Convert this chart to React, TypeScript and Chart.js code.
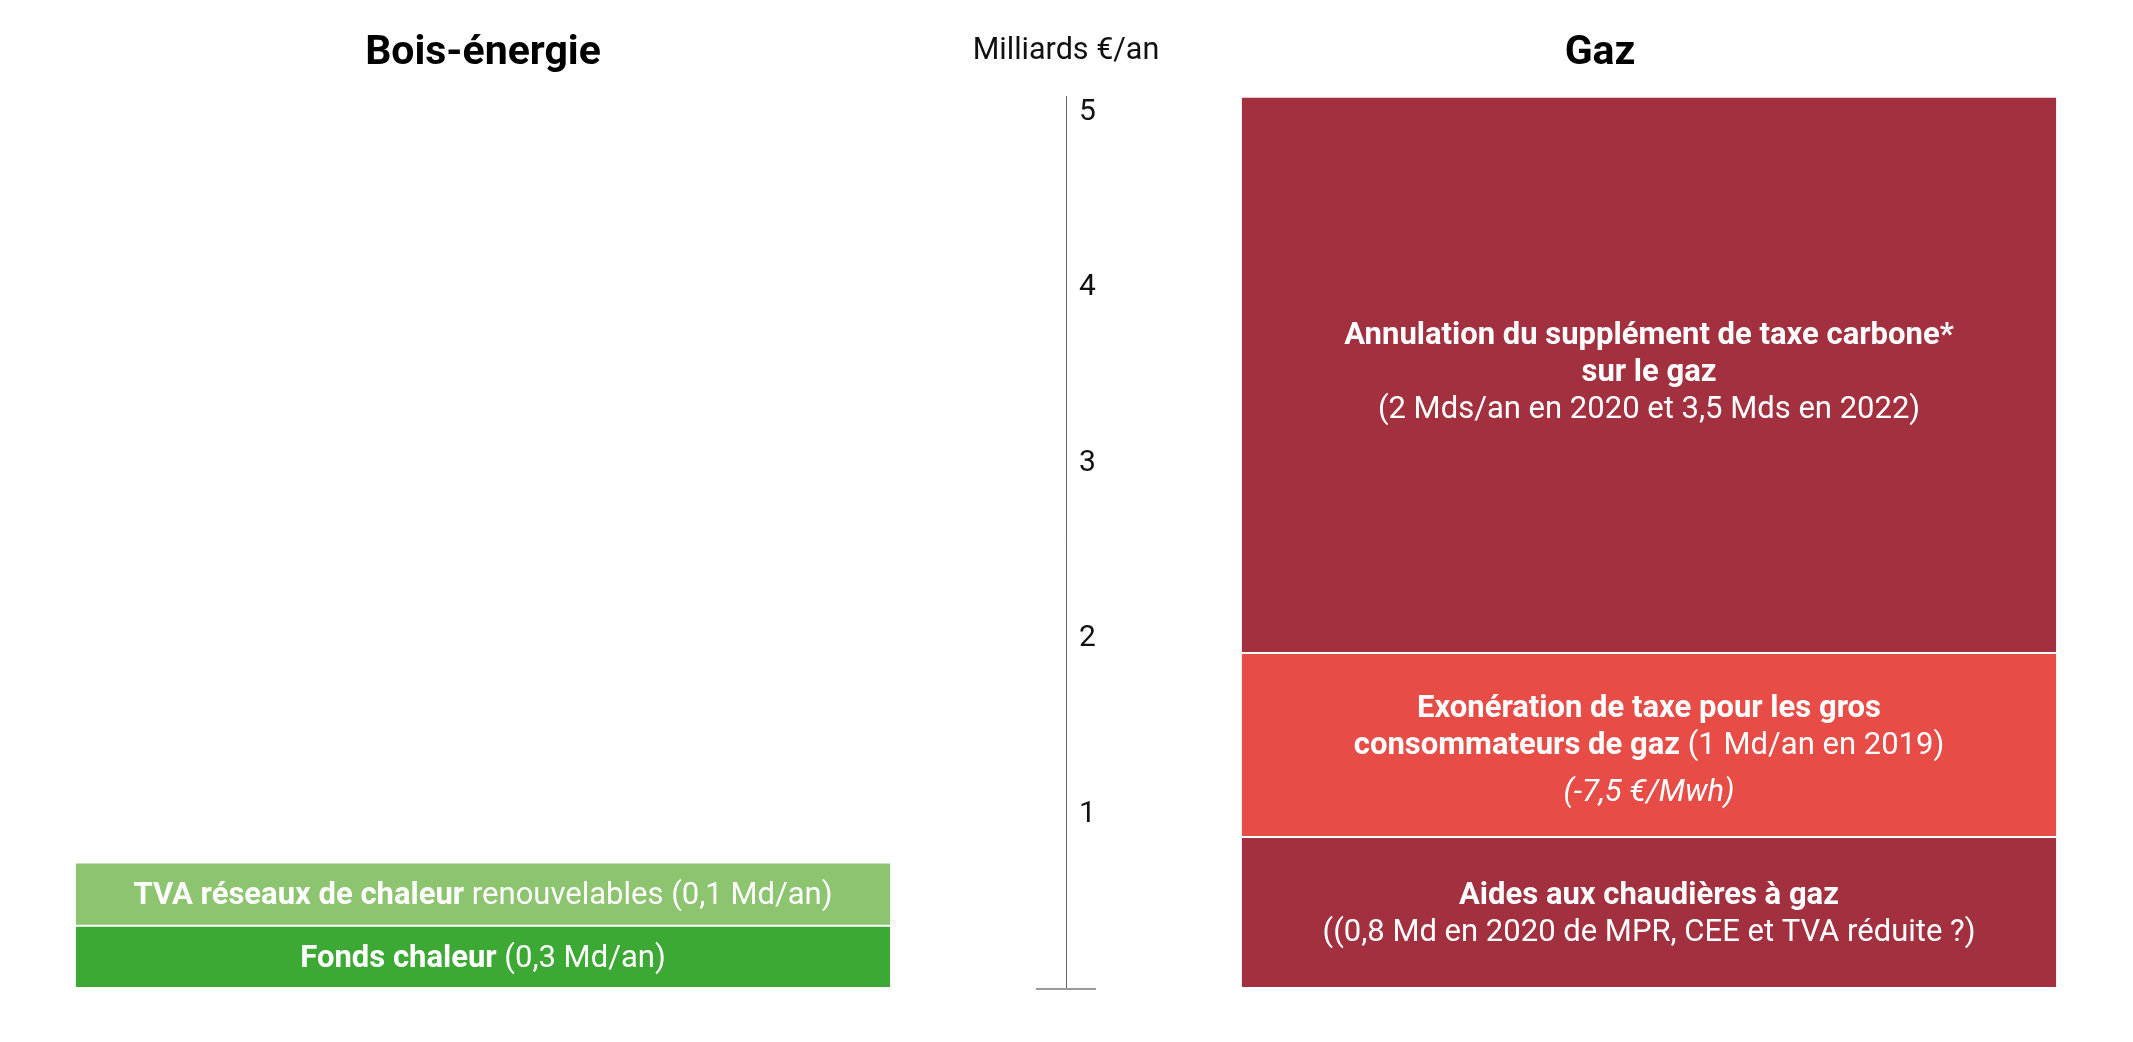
import React, { useEffect, useRef } from "react";
import { Chart, registerables } from "chart.js";

Chart.register(...registerables);

// ---------- data ----------
const categories = ["Bois-énergie", "", "Gaz"];
const panelTitles = ["Bois-énergie", "", "Gaz"];
const axisTitle = "Milliards €/an";
const yTickValues = [1, 2, 3, 4, 5];
const yMax = 5.08;

const fondsChaleur = [0.355, null, null];
const tvaReseaux = [0.36, null, null];
const aidesChaudieres = [null, null, 0.86];
const exonerationTaxe = [null, null, 1.05];
const annulationTaxeCarbone = [null, null, 3.17];

type Run = { t: string; s: "b" | "r" | "i" };

const fondsLines: Run[][] = [[{ t: "Fonds chaleur", s: "b" }, { t: " (0,3 Md/an)", s: "r" }]];
const tvaLines: Run[][] = [
  [{ t: "TVA réseaux de chaleur", s: "b" }, { t: " renouvelables (0,1 Md/an)", s: "r" }],
];
const aidesLines: Run[][] = [
  [{ t: "Aides aux chaudières à gaz", s: "b" }],
  [{ t: "((0,8 Md en 2020 de MPR, CEE et TVA réduite ?)", s: "r" }],
];
const exonerationLines: Run[][] = [
  [{ t: "Exonération de taxe pour les gros", s: "b" }],
  [{ t: "consommateurs de gaz", s: "b" }, { t: " (1 Md/an en 2019)", s: "r" }],
  [{ t: "(-7,5 €/Mwh)", s: "i" }],
];
const annulationLines: Run[][] = [
  [{ t: "Annulation du supplément de taxe carbone*", s: "b" }],
  [{ t: "sur le gaz", s: "b" }],
  [{ t: "(2 Mds/an en 2020 et 3,5 Mds en 2022)", s: "r" }],
];

// ---------- styles ----------
const FONT = "Roboto";
const DARK_RED = "rgb(163,48,63)";
const RED = "rgb(232,76,71)";
const LIGHT_GREEN = "rgb(141,196,112)";
const DARK_GREEN = "rgb(61,169,53)";
const BAR_TEXT_SIZE = 31;
const LINE_H = 37;

function fontFor(s: "b" | "r" | "i", size: number) {
  if (s === "b") return `bold ${size}px ${FONT}`;
  if (s === "i") return `italic 400 ${size}px ${FONT}`;
  return `400 ${size}px ${FONT}`;
}

function drawBlock(ctx: CanvasRenderingContext2D, lines: Run[][], cx: number, cy: number) {
  const baselines: number[] = [];
  let b = 0;
  lines.forEach((line, k) => {
    if (k > 0) b += LINE_H + (line.some((r) => r.s === "i") ? 10 : 0);
    baselines.push(b);
  });
  const mid = (baselines[0] + baselines[baselines.length - 1]) / 2;
  ctx.fillStyle = "#ffffff";
  ctx.textAlign = "left";
  ctx.textBaseline = "alphabetic";
  lines.forEach((line, k) => {
    let total = 0;
    const widths = line.map((r) => {
      ctx.font = fontFor(r.s, BAR_TEXT_SIZE);
      const w = ctx.measureText(r.t).width;
      total += w;
      return w;
    });
    let x = cx - total / 2;
    const y = cy - mid + baselines[k] + 10;
    line.forEach((r, i) => {
      ctx.font = fontFor(r.s, BAR_TEXT_SIZE);
      ctx.fillText(r.t, x, y);
      x += widths[i];
    });
  });
}

const overlayPlugin = {
  id: "overlay",
  afterDatasetsDraw(chart: any) {
    const ctx: CanvasRenderingContext2D = chart.ctx;
    ctx.save();
    chart.data.datasets.forEach((ds: any, i: number) => {
      const meta = chart.getDatasetMeta(i);
      meta.data.forEach((el: any, j: number) => {
        if (ds.data[j] == null) return;
        const p = el.getProps(["x", "y", "base"], true);
        drawBlock(ctx, ds.textLines, p.x, (p.y + p.base) / 2 + (ds.textDy || 0));
      });
    });
    ctx.restore();
  },
  afterDraw(chart: any) {
    const ctx: CanvasRenderingContext2D = chart.ctx;
    const xs = chart.scales.x;
    const ys = chart.scales.y;
    const axisX = xs.getPixelForValue(1);
    ctx.save();
    // y tick labels
    ctx.fillStyle = "#111";
    ctx.font = `400 30px ${FONT}`;
    ctx.textAlign = "left";
    ctx.textBaseline = "middle";
    ys.ticks.forEach((t: any) => {
      ctx.fillText(String(t.value), axisX + 13, ys.getPixelForValue(t.value) + 1.5);
    });
    // baseline tick
    const y0 = ys.getPixelForValue(0);
    ctx.strokeStyle = "#999";
    ctx.lineWidth = 2;
    ctx.beginPath();
    ctx.moveTo(axisX - 30, y0 + 1);
    ctx.lineTo(axisX + 30, y0 + 1);
    ctx.stroke();
    // axis title
    ctx.fillStyle = "#111";
    ctx.textAlign = "center";
    ctx.textBaseline = "alphabetic";
    ctx.font = `400 30.5px ${FONT}`;
    ctx.fillText(axisTitle, axisX, 59);
    // panel titles
    ctx.fillStyle = "#000";
    ctx.font = `bold 41px ${FONT}`;
    panelTitles.forEach((t, i) => {
      if (!t) return;
      const off = i === 2 ? -49 : 0;
      ctx.fillText(t, xs.getPixelForValue(i) + off, 64);
    });
    ctx.restore();
  },
};

export default function App() {
  const ref = useRef<HTMLCanvasElement | null>(null);
  useEffect(() => {
    if (!ref.current) return;
    const border = "rgba(255,255,255,0.16)";
    const common = { borderColor: border, borderWidth: 1, borderSkipped: false, clip: false };
    const chart = new Chart(ref.current, {
      type: "bar",
      data: {
        labels: categories,
        datasets: [
          { label: "Fonds chaleur", data: fondsChaleur, backgroundColor: DARK_GREEN, textLines: fondsLines, ...common },
          { label: "TVA réseaux de chaleur", data: tvaReseaux, backgroundColor: LIGHT_GREEN, textLines: tvaLines, ...common },
          { label: "Aides aux chaudières à gaz", data: aidesChaudieres, backgroundColor: DARK_RED, textLines: aidesLines, ...common },
          { label: "Exonération de taxe", data: exonerationTaxe, backgroundColor: RED, textLines: exonerationLines, textDy: 4, ...common },
          { label: "Annulation taxe carbone", data: annulationTaxeCarbone, backgroundColor: DARK_RED, textLines: annulationLines, textDy: -4, ...common },
        ] as any,
      },
      options: {
        animation: false,
        responsive: true,
        maintainAspectRatio: false,
        layout: { padding: { left: 191.5, right: 192.5, top: 96.7, bottom: 54 } },
        datasets: { bar: { categoryPercentage: 1, barPercentage: 1.4 } },
        plugins: { legend: { display: false }, tooltip: { enabled: false }, title: { display: false } },
        scales: {
          x: { stacked: true, display: false },
          y: {
            stacked: true,
            min: 0,
            max: yMax,
            position: { x: 1 } as any,
            grid: { display: false },
            border: { display: true, color: "#666", width: 1 },
            ticks: { display: false, includeBounds: false },
            afterBuildTicks: (s: any) => {
              s.ticks = yTickValues.map((v) => ({ value: v }));
            },
          },
        },
      } as any,
      plugins: [overlayPlugin],
    });
    return () => chart.destroy();
  }, []);
  return (
    <div style={{ position: "absolute", left: 0, top: 0, width: 2133, height: 1042, background: "#fff" }}>
      <canvas ref={ref} />
    </div>
  );
}
